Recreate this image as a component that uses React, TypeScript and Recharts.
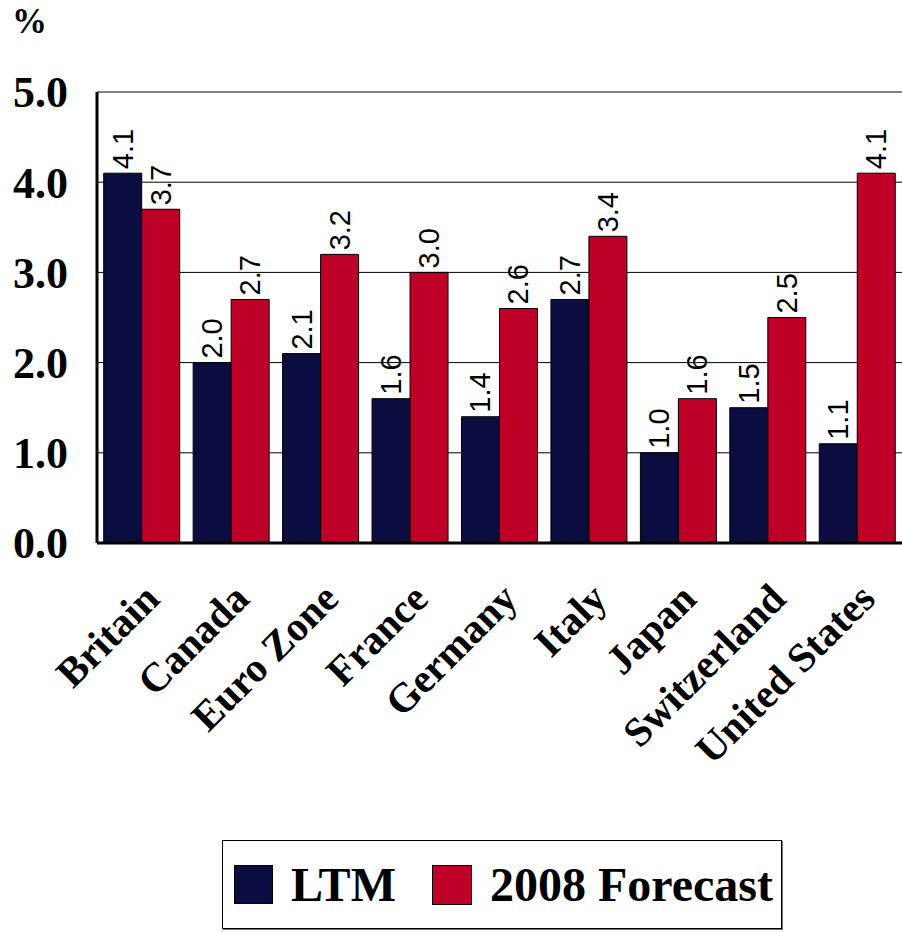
import { Bar, BarChart, CartesianGrid, LabelList, XAxis, YAxis } from 'recharts'

const countries = [
  'Britain',
  'Canada',
  'Euro Zone',
  'France',
  'Germany',
  'Italy',
  'Japan',
  'Switzerland',
  'United States',
]
const ltm = [4.1, 2.0, 2.1, 1.6, 1.4, 2.7, 1.0, 1.5, 1.1]
const forecast = [3.7, 2.7, 3.2, 3.0, 2.6, 3.4, 1.6, 2.5, 4.1]
const yTicks = [0, 1, 2, 3, 4, 5]

const NAVY = '#0b0d40'
const RED = '#be0027'
const SERIF = '"Liberation Serif", "Times New Roman", serif'

const chartData = countries.map((name, i) => ({
  name,
  ltm: ltm[i],
  forecast: forecast[i],
}))

const CountryTick = (props: any) => {
  const { x, y, payload } = props
  const tx = x + 20
  const ty = y + 50
  return (
    <text
      x={tx}
      y={ty}
      transform={`rotate(-45, ${tx}, ${ty})`}
      textAnchor="end"
      fontFamily={SERIF}
      fontWeight="bold"
      fontSize={41}
      fill="#000"
    >
      {payload.value}
    </text>
  )
}

const ValueTick = (props: any) => {
  const { x, y, payload } = props
  return (
    <text
      x={x}
      y={y}
      dy="0.35em"
      textAnchor="end"
      fontFamily={SERIF}
      fontWeight="bold"
      fontSize={44}
      fill="#000"
    >
      {Number(payload.value).toFixed(1)}
    </text>
  )
}

const BarValue = (props: any) => {
  const { x, y, width, value } = props
  const cx = x + width / 2
  const cy = y - 4
  return (
    <text
      x={cx}
      y={cy}
      transform={`rotate(-90, ${cx}, ${cy})`}
      textAnchor="start"
      dominantBaseline="central"
      fontFamily='"Liberation Sans", Arial, sans-serif'
      fontSize={29}
      fill="#000"
    >
      {Number(value).toFixed(1)}
    </text>
  )
}

export default function App() {
  return (
    <div style={{ position: 'absolute', left: 0, top: 0, width: 902, height: 932, background: '#fff' }}>
      <div
        style={{
          position: 'absolute',
          left: 12,
          top: 2,
          fontFamily: SERIF,
          fontWeight: 'bold',
          fontSize: 35,
        }}
      >
        %
      </div>
      <BarChart
        width={902}
        height={800}
        data={chartData}
        margin={{ top: 92, right: 0, bottom: 0, left: 0 }}
        barGap={0}
        barCategoryGap="7.5%"
      >
        <CartesianGrid vertical={false} stroke="#000" strokeWidth={1} />
        <XAxis
          dataKey="name"
          interval={0}
          height={257}
          axisLine={{ stroke: '#000', strokeWidth: 3 }}
          tickLine={false}
          tick={<CountryTick />}
        />
        <YAxis
          width={97}
          domain={[0, 5]}
          ticks={yTicks}
          axisLine={{ stroke: '#000', strokeWidth: 3 }}
          tickLine={false}
          tickSize={0}
          tickMargin={29}
          tick={<ValueTick />}
        />
        <Bar dataKey="ltm" fill={NAVY} stroke="#000" strokeWidth={1} isAnimationActive={false}>
          <LabelList dataKey="ltm" content={<BarValue />} />
        </Bar>
        <Bar dataKey="forecast" fill={RED} stroke="#000" strokeWidth={1} isAnimationActive={false}>
          <LabelList dataKey="forecast" content={<BarValue />} />
        </Bar>
      </BarChart>
      <div
        style={{
          position: 'absolute',
          left: 222,
          top: 840,
          width: 560,
          height: 89,
          border: '1px solid #000',
          boxShadow: '1px 1px 0 #777',
          boxSizing: 'border-box',
          display: 'flex',
          alignItems: 'center',
          fontFamily: SERIF,
          fontWeight: 'bold',
          fontSize: 48,
        }}
      >
        <span style={{ width: 39, height: 39, background: NAVY, border: '1px solid #000', marginLeft: 11, boxSizing: 'border-box' }} />
        <span style={{ marginLeft: 18 }}>LTM</span>
        <span style={{ width: 40, height: 40, background: RED, border: '1px solid #000', marginLeft: 36, boxSizing: 'border-box' }} />
        <span style={{ marginLeft: 18 }}>2008 Forecast</span>
      </div>
    </div>
  )
}
